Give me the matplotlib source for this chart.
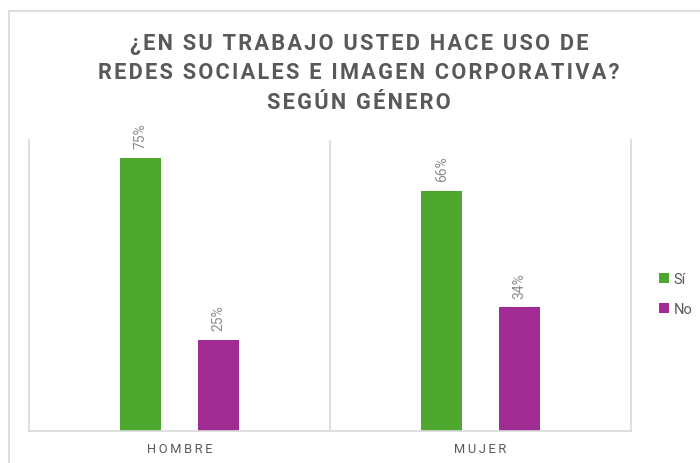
import numpy as np
import matplotlib.pyplot as plt
from matplotlib.patches import Rectangle

categorias = ["HOMBRE", "MUJER"]
si = [0.75, 0.66]
no = [0.25, 0.34]
series = ["Sí", "No"]
titulo = ["¿EN SU TRABAJO USTED HACE USO DE",
          "REDES SOCIALES E IMAGEN CORPORATIVA?",
          "SEGÚN GÉNERO"]

verde = "#4EA72E"
morado = "#A02B93"
gris = "#595959"
linea = "#D9D9D9"
fuente = ["Roboto", "DejaVu Sans"]


def espaciar(s, sep="\u200a"):
    # espaciado entre letras, la fuente de respaldo pone el espacio fino
    return sep.join(s)


plt.rcParams["font.family"] = fuente

fig = plt.figure(figsize=(7, 4.64), dpi=100)
W, H = 700, 464

# marco exterior del grafico
fig.patches.append(Rectangle((9 / W, -0.1), 1.2, 1 - 12 / H + 0.1, transform=fig.transFigure,
                             fill=False, edgecolor=linea, linewidth=1.2))

ax = fig.add_axes([29 / W, (H - 432) / H, 602 / W, (432 - 141) / H])
x = np.arange(len(categorias))
off, ancho = 0.129, 0.136
b1 = ax.bar(x - off, si, ancho, color=verde, label=series[0])
b2 = ax.bar(x + off, no, ancho, color=morado, label=series[1])

for barras in (b1, b2):
    for r in barras:
        ax.annotate(f"{r.get_height():.0%}", (r.get_x() + r.get_width() / 2, r.get_height()),
                    xytext=(0, 7), textcoords="offset points", rotation=90,
                    ha="center", va="bottom", fontsize=10, color="#8C8C8C")

ax.set_xlim(-0.5, 1.5)
ax.set_ylim(0, 0.8)
ax.set_yticks([])
ax.set_xticks(x)
ax.set_xticklabels([espaciar(c, "\u2009") for c in categorias], fontsize=9.3, color=gris)
ax.tick_params(axis="x", length=0, pad=8)
ax.spines["top"].set_visible(False)
for s in ("left", "right", "bottom"):
    ax.spines[s].set_color(linea)
    ax.spines[s].set_linewidth(1.2)
ax.axvline(0.5, color=linea, linewidth=1.2)

for linea_t, base in zip(titulo, [50, 79, 109]):
    fig.text(359 / W, 1 - base / H, espaciar(linea_t), ha="center", va="baseline",
             fontsize=15.7, fontweight="bold", color=gris)

leg = ax.legend(loc="center left", bbox_to_anchor=(1.025, 0.47), frameon=False, fontsize=10.5,
                handlelength=0.65, handleheight=0.65, handletextpad=0.35, labelspacing=1.1)
for t in leg.get_texts():
    t.set_color(gris)

fig.savefig("out.png", dpi=100)
